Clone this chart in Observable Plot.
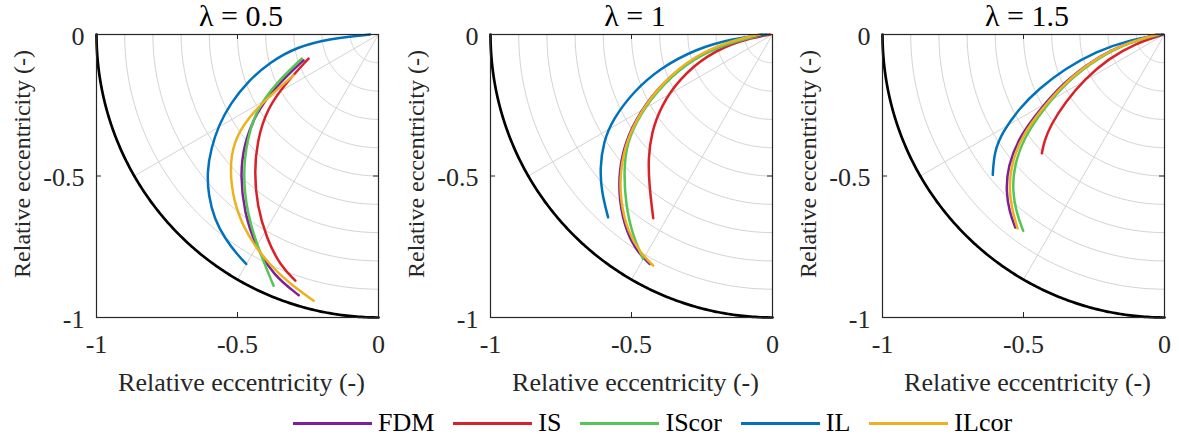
<!DOCTYPE html>
<html>
<head>
<meta charset="utf-8">
<script src="https://cdn.jsdelivr.net/npm/d3@7"></script>
<script src="https://cdn.jsdelivr.net/npm/@observablehq/plot@0.6"></script>
<style>
  body { margin: 0; background: #fff; font-family: "Liberation Serif", "Times New Roman", Times, serif; }
  #wrap { position: relative; width: 1179px; height: 443px; overflow: hidden; background: #fff; }
  .panel { position: absolute; top: 0; }
  .title { position: absolute; top: 1px; width: 300px; text-align: center; font-size: 30px; line-height: 30px; color: #000; white-space: nowrap; }
  #legend { position: absolute; left: 293px; top: 410px; height: 26px; display: flex; align-items: center; font-size: 26px; line-height: 26px; color: #000; }
  #legend .sw { width: 79px; height: 3px; margin-right: 6px; }
  #legend .lab { margin-right: 19px; white-space: nowrap; }
</style>
</head>
<body>
<div id="wrap"></div>
<script>
// ---- data ----
const methods = ["FDM", "IS", "IScor", "IL", "ILcor"];
const methodColors = ["#7E1F9A", "#D92228", "#55C555", "#0072BD", "#EDB120"];
const lambdas = ["0.5", "1", "1.5"];
const xTicks = [-1, -0.5, 0];
const yTicks = [-1, -0.5, 0];
const gridRadii = [0.1, 0.2, 0.3, 0.4, 0.5, 0.6, 0.7, 0.8, 0.9];
const spokeAngles = [30, 60];
const axisLabel = "Relative eccentricity (-)";

// lambda = 0.5  ([x, y] pairs)
const l05_FDM = [[-0.266,-0.091],[-0.360,-0.179],[-0.437,-0.280],[-0.478,-0.392],[-0.490,-0.498],[-0.476,-0.628],[-0.437,-0.746],[-0.372,-0.852],[-0.283,-0.921]];
const l05_IS = [[-0.248,-0.085],[-0.325,-0.168],[-0.396,-0.262],[-0.431,-0.380],[-0.440,-0.486],[-0.431,-0.604],[-0.396,-0.723],[-0.348,-0.817],[-0.295,-0.870]];
const l05_IScor = [[-0.272,-0.085],[-0.360,-0.168],[-0.431,-0.262],[-0.466,-0.368],[-0.481,-0.498],[-0.466,-0.628],[-0.431,-0.746],[-0.372,-0.888]];
const l05_IL = [[-0.030,0],[-0.171,-0.014],[-0.289,-0.044],[-0.384,-0.097],[-0.466,-0.168],[-0.525,-0.244],[-0.567,-0.321],[-0.594,-0.404],[-0.608,-0.486],[-0.603,-0.569],[-0.582,-0.652],[-0.543,-0.723],[-0.502,-0.776],[-0.469,-0.811]];
const l05_ILcor = [[-0.301,-0.144],[-0.384,-0.215],[-0.466,-0.298],[-0.514,-0.380],[-0.528,-0.475],[-0.514,-0.593],[-0.466,-0.711],[-0.384,-0.817],[-0.313,-0.882],[-0.230,-0.941]];

// lambda = 1
const l1_FDM = [[-0.040,0],[-0.160,-0.028],[-0.280,-0.082],[-0.390,-0.170],[-0.468,-0.270],[-0.522,-0.376],[-0.545,-0.486],[-0.543,-0.593],[-0.518,-0.699],[-0.478,-0.770],[-0.435,-0.811]];
const l1_IS = [[-0.009,0],[-0.116,-0.020],[-0.234,-0.073],[-0.329,-0.156],[-0.394,-0.250],[-0.429,-0.345],[-0.441,-0.439],[-0.437,-0.534],[-0.423,-0.649]];
const l1_IScor = [[-0.033,0],[-0.163,-0.032],[-0.281,-0.085],[-0.388,-0.174],[-0.470,-0.280],[-0.518,-0.386],[-0.527,-0.486],[-0.521,-0.593],[-0.500,-0.699],[-0.459,-0.793]];
const l1_IL = [[-0.021,0],[-0.139,-0.014],[-0.270,-0.050],[-0.400,-0.120],[-0.494,-0.203],[-0.565,-0.298],[-0.600,-0.380],[-0.612,-0.475],[-0.606,-0.557],[-0.583,-0.646]];
const l1_ILcor = [[-0.045,0],[-0.163,-0.026],[-0.281,-0.079],[-0.388,-0.168],[-0.465,-0.268],[-0.518,-0.374],[-0.541,-0.486],[-0.539,-0.593],[-0.512,-0.699],[-0.470,-0.770],[-0.423,-0.817]];

// lambda = 1.5
const l15_FDM = [[-0.025,0],[-0.132,-0.028],[-0.252,-0.088],[-0.358,-0.170],[-0.442,-0.265],[-0.514,-0.360],[-0.556,-0.466],[-0.562,-0.555],[-0.550,-0.626],[-0.529,-0.682]];
const l15_IS = [[-0.004,0],[-0.104,-0.032],[-0.198,-0.085],[-0.280,-0.155],[-0.351,-0.238],[-0.404,-0.320],[-0.427,-0.379],[-0.435,-0.420]];
const l15_IScor = [[-0.018,0],[-0.122,-0.026],[-0.240,-0.085],[-0.346,-0.167],[-0.428,-0.262],[-0.495,-0.358],[-0.534,-0.464],[-0.539,-0.555],[-0.525,-0.630],[-0.501,-0.694]];
const l15_IL = [[-0.009,0],[-0.127,-0.020],[-0.245,-0.061],[-0.351,-0.120],[-0.445,-0.191],[-0.515,-0.261],[-0.574,-0.344],[-0.604,-0.414],[-0.609,-0.496]];
const l15_ILcor = [[-0.021,0],[-0.127,-0.026],[-0.245,-0.085],[-0.351,-0.167],[-0.433,-0.261],[-0.504,-0.355],[-0.545,-0.461],[-0.551,-0.555],[-0.539,-0.626],[-0.521,-0.685]];

const panelSeries = [
  {FDM: l05_FDM, IS: l05_IS, IScor: l05_IScor, IL: l05_IL, ILcor: l05_ILcor},
  {FDM: l1_FDM, IS: l1_IS, IScor: l1_IScor, IL: l1_IL, ILcor: l1_ILcor},
  {FDM: l15_FDM, IS: l15_IS, IScor: l15_IScor, IL: l15_IL, ILcor: l15_ILcor}
];

// ---- layout ----
const W = 393, H = 400, ML = 96, MR = 15, MT = 34, MB = 83;
const frameW = W - ML - MR, frameH = H - MT - MB;
const tickLen = 5;
const panelLeft = [0, 394, 786];
const rad = Math.PI / 180;
const serif = '"Liberation Serif", "Times New Roman", Times, serif';

function makePanel(series) {
  const rows = methods.flatMap(m => series[m].map(([x, y]) => ({method: m, x, y})));
  const arcs = gridRadii.flatMap(r => d3.range(0, 90.5, 1).map(a => ({r, x: -r * Math.cos(a * rad), y: -r * Math.sin(a * rad)})));
  const spokes = spokeAngles.flatMap(a => [0, 1].map(r => ({a, x: -r * Math.cos(a * rad), y: -r * Math.sin(a * rad)})));
  const unit = d3.range(0, 90.25, 0.5).map(a => ({x: -Math.cos(a * rad), y: -Math.sin(a * rad)}));
  const fmt = d => String(d);
  return Plot.plot({
    width: W, height: H,
    marginLeft: ML, marginRight: MR, marginTop: MT, marginBottom: MB,
    x: {domain: [-1, 0]},
    y: {domain: [-1, 0]},
    color: {domain: methods, range: methodColors},
    style: {fontFamily: serif, fontSize: "26px", color: "#262626", background: "transparent", overflow: "visible"},
    marks: [
      Plot.line(arcs, {x: "x", y: "y", z: "r", stroke: "#d3d3d3", strokeWidth: 1}),
      Plot.line(spokes, {x: "x", y: "y", z: "a", stroke: "#d3d3d3", strokeWidth: 1}),
      Plot.line(unit, {x: "x", y: "y", stroke: "#000", strokeWidth: 2.7}),
      Plot.line(rows, {x: "x", y: "y", z: "method", stroke: "method", strokeWidth: 2.5, curve: "basis"}),
      Plot.frame({stroke: "#262626", strokeWidth: 1.2}),
      Plot.tickX([-0.5], {x: d => d, insetTop: frameH - tickLen, stroke: "#262626"}),
      Plot.tickX([-0.5], {x: d => d, insetBottom: frameH - tickLen, stroke: "#262626"}),
      Plot.tickY([-0.5], {y: d => d, insetRight: frameW - tickLen, stroke: "#262626"}),
      Plot.tickY([-0.5], {y: d => d, insetLeft: frameW - tickLen, stroke: "#262626"}),
      Plot.axisX({ticks: xTicks, tickSize: 0, tickPadding: 17, tickFormat: fmt, label: null, fontSize: 26}),
      Plot.axisY({ticks: yTicks, tickSize: 0, tickPadding: 12, dy: 2, tickFormat: fmt, label: null, fontSize: 26}),
      Plot.text([axisLabel], {text: d => d, frameAnchor: "bottom", textAnchor: "middle", dx: 4, dy: 65, lineAnchor: "middle", fontSize: 26}),
      Plot.text([axisLabel], {text: d => d, frameAnchor: "left", textAnchor: "middle", rotate: -90, dx: -74, dy: -12, lineAnchor: "middle", fontSize: 24})
    ]
  });
}

const wrap = document.getElementById("wrap");
panelSeries.forEach((s, i) => {
  const div = document.createElement("div");
  div.className = "panel";
  div.style.left = panelLeft[i] + "px";
  div.appendChild(makePanel(s));
  wrap.appendChild(div);
  const t = document.createElement("div");
  t.className = "title";
  const cx = panelLeft[i] + ML + frameW / 2 + 4;
  t.style.left = (cx - 150) + "px";
  t.textContent = "\u03BB = " + lambdas[i];
  wrap.appendChild(t);
});

const legend = document.createElement("div");
legend.id = "legend";
methods.forEach((m, i) => {
  const sw = document.createElement("span");
  sw.className = "sw";
  sw.style.background = methodColors[i];
  const lab = document.createElement("span");
  lab.className = "lab";
  lab.textContent = m;
  legend.appendChild(sw);
  legend.appendChild(lab);
});
wrap.appendChild(legend);
</script>
</body>
</html>
